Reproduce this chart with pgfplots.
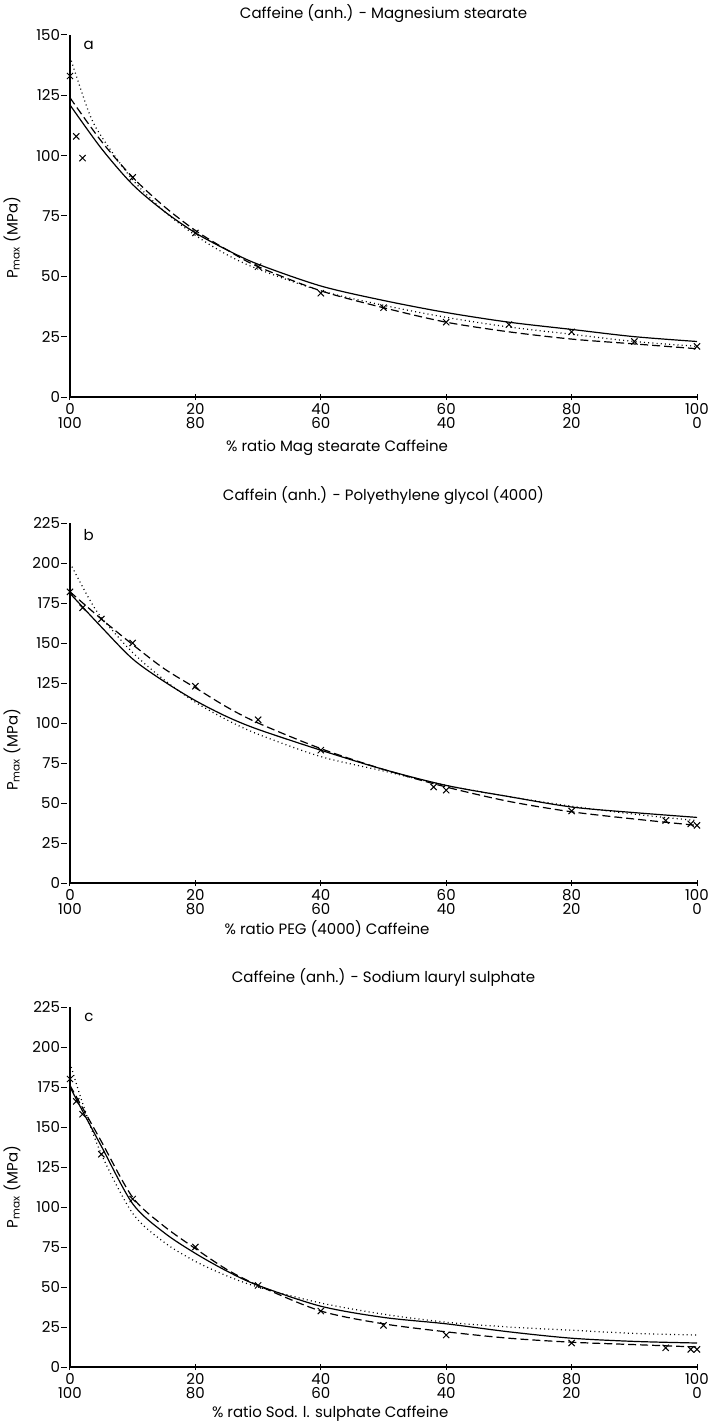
\documentclass[border=0pt]{standalone}
\usepackage{fontspec}
\setmainfont{Poppins}
\usepackage{pgfplots}
\pgfplotsset{compat=1.18}

\pgfplotsset{
  panel/.style={
    scale only axis,
    width=313.5pt,
    xmin=0, xmax=100, ymin=0,
    axis lines=left,
    axis line style={-, line width=0.6pt},
    tick style={black, line width=0.5pt},
    major tick length=3pt,
    y tick style={xshift=-3pt},
    xtick={0,20,40,60,80,100},
    xticklabels={0\\100,20\\80,40\\60,60\\40,80\\20,100\\0},
    xticklabel style={align=center, font=\fontsize{7.5}{7.2}\selectfont, yshift=2pt},
    yticklabel style={font=\fontsize{7.5}{9}\selectfont},
    /pgf/number format/assume math mode=true,
    label style={font=\fontsize{7.5}{9}\selectfont},
    title style={font=\fontsize{7.5}{9}\selectfont, at={(axis description cs:0.5,1)}, anchor=base},
    ylabel={P\textsubscript{max} (MPa)},
    clip=false,
  },
  fit/.style={black, line width=0.6pt, smooth, tension=0.5, no marks},
  pts/.style={only marks, mark=x, mark size=2.2pt, black, mark options={line width=0.5pt}},
}

\begin{document}
\begin{tikzpicture}
\path[use as bounding box] (0,0) rectangle (358.5pt,-714pt);

% ---- panel a
\begin{axis}[panel, at={(35pt,-198.5pt)}, anchor=south west, height=181pt,
  ymax=150, ytick={0,25,50,75,100,125,150},
  title={Caffeine (anh.) - Magnesium stearate}, title style={yshift=2pt},
  xlabel={\% ratio Mag stearate Caffeine},
  xlabel style={at={(axis description cs:0.426,0)}, anchor=base, yshift=-27pt},
  ylabel style={at={(axis description cs:-0.0925,0.44)}, anchor=center}]
\addplot[fit] coordinates {(0,121) (5,103) (10,88) (15,77) (20,68) (25,61) (30,55) (40,46) (50,40) (60,35) (70,31) (80,28) (90,25) (100,23)};
\addplot[fit, dash pattern=on 4pt off 2pt] coordinates {(0,124) (5,106) (10,91) (15,79) (20,69) (25,61) (30,54) (40,44) (50,37) (60,31) (70,27) (80,24) (90,22) (100,20)};
\addplot[fit, dash pattern=on 0.5pt off 1.6pt] coordinates {(0,141) (3,118) (5,108) (10,90) (15,77) (20,67) (25,59) (30,53) (40,44) (50,38) (60,33) (70,29) (80,26) (90,23) (100,21)};
\addplot[pts] coordinates {(0,133) (1,108) (2,99) (10,91) (20,68) (30,54) (40,43) (50,37) (60,31) (70,30) (80,27) (90,23) (100,21)};
\node[font=\fontsize{7.5}{9}\selectfont] at (rel axis cs:0.03,0.97) {a};
\end{axis}

% ---- panel b
\begin{axis}[panel, at={(35pt,-441.5pt)}, anchor=south west, height=180pt,
  ymax=225, ytick={0,25,50,75,100,125,150,175,200,225},
  title={Caffein (anh.) - Polyethylene glycol (4000)}, title style={yshift=5.5pt},
  xlabel={\% ratio PEG (4000) Caffeine},
  xlabel style={at={(axis description cs:0.41,0)}, anchor=base, yshift=-25.5pt},
  ylabel style={at={(axis description cs:-0.0925,0.37)}, anchor=center}]
\addplot[fit] coordinates {(0,181) (5,160) (10,140) (15,126) (20,114) (25,104) (30,96) (40,83) (50,71) (60,61) (70,54) (80,47.5) (90,44) (100,41)};
\addplot[fit, dash pattern=on 4pt off 2pt] coordinates {(0,182) (5,165) (10,149) (15,134) (20,122) (25,110) (30,100) (40,84) (50,71) (60,60) (70,51) (80,44.5) (90,40) (100,36)};
\addplot[fit, dash pattern=on 0.5pt off 1.6pt] coordinates {(0,200) (3,178) (5,166) (10,144) (15,127) (20,113) (25,102) (30,93) (40,79) (50,70) (60,61) (70,54) (80,48) (90,43) (100,39)};
\addplot[pts] coordinates {(0,182) (2,172) (5,165) (10,150) (20,123) (30,102) (40,83) (58,60) (60,58) (80,45) (95,39) (99,37) (100,36)};
\node[font=\fontsize{7.5}{9}\selectfont] at (rel axis cs:0.03,0.967) {b};
\end{axis}

% ---- panel c
\begin{axis}[panel, at={(35pt,-683.5pt)}, anchor=south west, height=180pt,
  ymax=225, ytick={0,25,50,75,100,125,150,175,200,225},
  title={Caffeine (anh.) - Sodium lauryl sulphate}, title style={yshift=6.5pt},
  xlabel={\% ratio Sod. l. sulphate Caffeine},
  xlabel style={at={(axis description cs:0.415,0)}, anchor=base, yshift=-25pt},
  ylabel style={at={(axis description cs:-0.0925,0.5)}, anchor=center}]
\addplot[fit] coordinates {(0,175) (2,160) (5,138) (10,102) (15,84) (20,71) (25,60) (30,51) (40,38) (50,31) (60,27) (70,22) (80,18) (90,16) (100,15)};
\addplot[fit, dash pattern=on 4pt off 2pt] coordinates {(0,176) (2,162) (5,141) (10,106) (15,88) (20,74) (25,61) (30,51) (40,35) (50,27) (60,22) (70,18) (80,15.5) (90,14) (100,12.5)};
\addplot[fit, dash pattern=on 0.5pt off 1.6pt] coordinates {(0,190) (2,165) (5,133) (10,96) (15,78) (20,66) (25,57) (30,50) (40,40) (50,33) (60,28) (70,25) (80,23) (90,21) (100,20)};
\addplot[pts] coordinates {(0,180) (1,166) (2,158) (5,133) (10,105) (20,75) (30,51) (40,35) (50,26) (60,20) (80,15) (95,12) (99,11) (100,11)};
\node[font=\fontsize{7.5}{9}\selectfont] at (rel axis cs:0.03,0.97) {c};
\end{axis}
\end{tikzpicture}
\end{document}
